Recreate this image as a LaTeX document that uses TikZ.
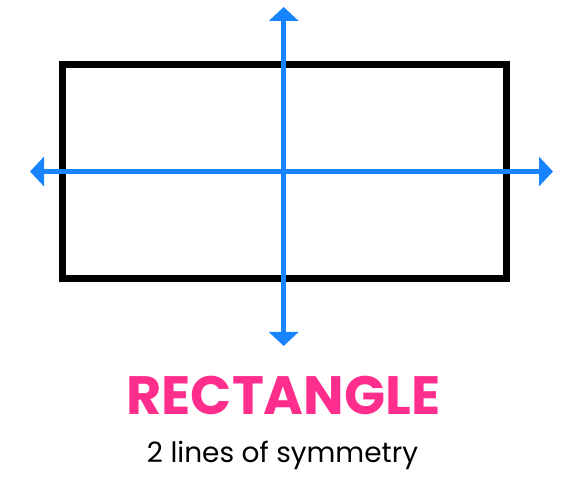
\documentclass[tikz,border=0pt]{standalone}
\usepackage{fontspec}
\setmainfont{Poppins}
\usetikzlibrary{arrows.meta,positioning}
\definecolor{axisblue}{RGB}{24,132,255}
\definecolor{titlepink}{RGB}{255,46,140}

\begin{document}
\begin{tikzpicture}[%
x=1pt, y=-1pt,
>={Triangle[width=29pt,length=14pt]},
axis/.style={draw=axisblue, fill=axisblue, line width=5pt, <->}
]
\useasboundingbox (0,0) rectangle (574,502);
\node[rectangle, draw, line width=7pt, inner sep=0pt, minimum width=444.5pt, minimum height=214pt] (rect) at (284.25,171.5) {};
\coordinate (top) at (283.7,7);
\coordinate (bottom) at (283.7,346);
\coordinate (left) at (30,171.5);
\coordinate (right) at (553,171.5);
\draw[axis] (top) -- (bottom);
\draw[axis] (left) -- (right);
\node[anchor=base, text=titlepink, font=\fontsize{54}{54}\selectfont\bfseries] (title) at (283.5,415) {RECTANGLE};
\node[anchor=base, font=\fontsize{28}{28}\selectfont] (caption) at (282.5,463) {2 lines of symmetry};
\end{tikzpicture}
\end{document}
